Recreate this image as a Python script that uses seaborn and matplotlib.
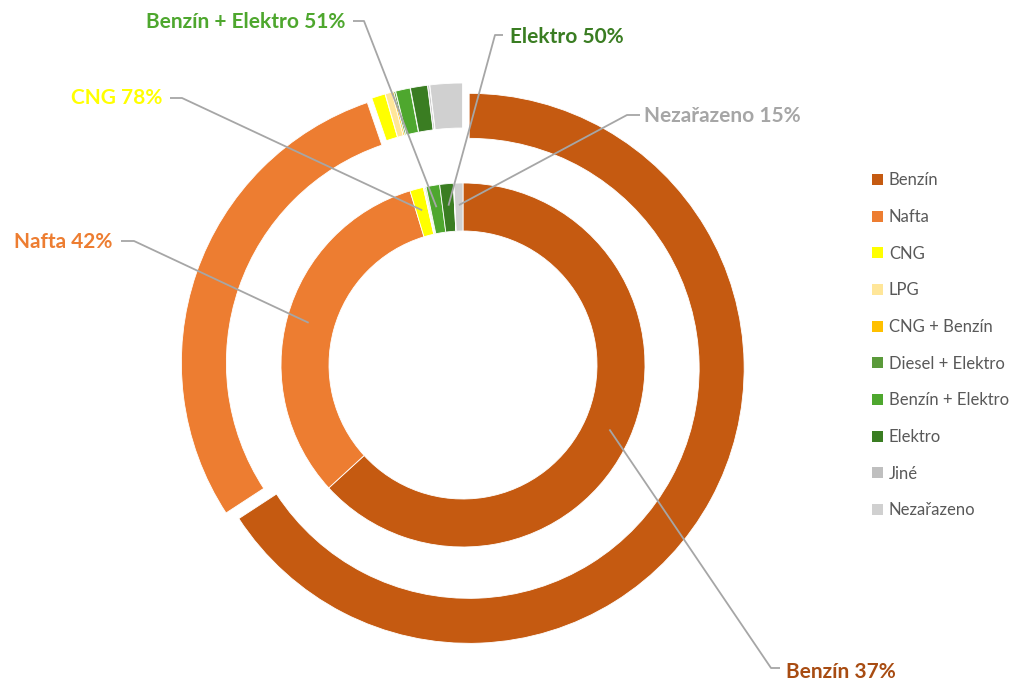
import numpy as np
import matplotlib
matplotlib.use("Agg")
import matplotlib.pyplot as plt
import seaborn as sns
from matplotlib.patches import Patch

# Fuel categories (legend order = wedge order, clockwise from 12 o'clock)
fuels = ["Benzín", "Nafta", "CNG", "LPG", "CNG + Benzín", "Diesel + Elektro",
         "Benzín + Elektro", "Elektro", "Jiné", "Nezařazeno"]

# Shares in % for the outer (exploded) ring and the inner ring
outer_share = [65.8, 28.95, 0.8, 0.4, 0.1, 0.1, 0.85, 1.0, 0.1, 1.9]
inner_share = [63.2, 32.1, 1.2, 0.1, 0.05, 0.1, 1.2, 1.2, 0.05, 0.8]

fuel_colors = ["#c55a11", "#ed7d31", "#ffff00", "#ffe699", "#ffc000",
               "#5a9a3a", "#4ea72e", "#3a7d22", "#bfbfbf", "#d0d0d0"]

# Callout labels and their percentages
label_fuels = ["Benzín + Elektro", "Elektro", "CNG", "Nezařazeno", "Nafta", "Benzín"]
label_pct = [51, 50, 78, 15, 42, 37]
label_colors = ["#4ea72e", "#3a7d22", "#ffff00", "#a6a6a6", "#ed7d31", "#a84c12"]

sns.set_theme(style="white")
plt.rcParams["font.family"] = ["Lato", "DejaVu Sans"]

W, H = 1019, 684
fig = plt.figure(figsize=(W / 100, H / 100), dpi=100)
ax = fig.add_axes([0, 0, 1, 1])

cx, cy = 463, H - 365
ring_props = dict(edgecolor="white", linewidth=0.6)

ax.pie(outer_share, colors=fuel_colors, radius=275, center=(cx, cy),
       startangle=90, counterclock=False, explode=[7] * len(fuels),
       wedgeprops=dict(width=45, **ring_props))
ax.pie(inner_share, colors=fuel_colors, radius=182, center=(cx, cy),
       startangle=90, counterclock=False,
       wedgeprops=dict(width=48, **ring_props))

ax.set_xlim(0, W)
ax.set_ylim(0, H)
ax.set_aspect("equal")
ax.axis("off")

# Leader-line geometry: (text x, text y, ha, corner point, point next to text)
callout_layout = {
    "Benzín + Elektro": (345, 22, "right", (364, 21), (353, 21)),
    "Elektro": (510, 37, "left", (495, 35), (503, 35)),
    "CNG": (162, 98, "right", (182, 98), (170, 98)),
    "Nezařazeno": (644, 116, "left", (627, 115), (640, 115)),
    "Nafta": (112, 242, "right", (134, 241), (121, 241)),
    "Benzín": (786, 672, "left", (771, 668), (780, 668)),
}

cum = np.concatenate([[0], np.cumsum(inner_share)]) / np.sum(inner_share)
for name, pct, col in zip(label_fuels, label_pct, label_colors):
    i = fuels.index(name)
    mid = 0.5 * (cum[i] + cum[i + 1]) * 360.0
    ang = np.deg2rad(90 - mid)
    r = 160
    px, py = cx + r * np.cos(ang), cy + r * np.sin(ang)
    tx, ty, ha, corner, near = callout_layout[name]
    xs = [px, corner[0], near[0]]
    ys = [py, H - corner[1], H - near[1]]
    ax.plot(xs, ys, color="#a6a6a6", lw=1.3, solid_capstyle="butt", zorder=5)
    ax.text(tx, H - ty, f"{name} {pct}%", ha=ha, va="center", color=col,
            fontsize=15, fontweight="bold", zorder=6)

handles = [Patch(facecolor=c, edgecolor="none") for c in fuel_colors]
fig.legend(handles, fuels, loc="upper left",
           bbox_to_anchor=(864 / W, (H - 164) / H), frameon=False,
           borderpad=0, handlelength=0.65, handleheight=0.65,
           handletextpad=0.35, labelspacing=1.24, fontsize=12,
           labelcolor="#595959")

fig.savefig("out.png", dpi=100, facecolor="white")
